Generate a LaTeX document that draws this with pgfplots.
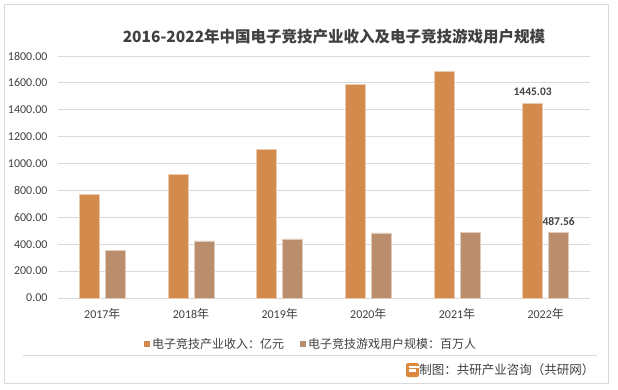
\documentclass[border=0pt]{standalone}
\usepackage{pgfplots}
\pgfplotsset{compat=1.18}
\usetikzlibrary{calc}
\usepackage{fontspec}
\setmainfont{Carlito}
\newfontfamily\cjk{Noto Sans CJK SC}
\definecolor{barA}{HTML}{D38B4D}
\definecolor{barB}{HTML}{BA8D6C}
\definecolor{txt}{HTML}{404040}
\definecolor{gridc}{HTML}{D9D9D9}
\begin{document}
\begin{tikzpicture}[x=1pt,y=1pt]
\useasboundingbox (0,0) rectangle (618,389);
\draw[gridc,line width=0.8pt] (4,6) rectangle (608,385);
\node[txt,font=\cjk\bfseries\fontsize{15.5}{18}\selectfont] at (334,352) {2016-2022年中国电子竞技产业收入及电子竞技游戏用户规模};
\begin{axis}[
  at={(58pt,91pt)}, anchor=south west,
  scale only axis, width=532pt, height=242pt,
  xmin=-0.5, xmax=5.5, ymin=0, ymax=1800,
  ybar=6pt, bar width=20pt,
  axis line style={draw=none},
  ymajorgrids, grid style={gridc,line width=0.8pt},
  ytick={0,200,...,1800},
  xtick=data,
  xticklabels={2017\cjk{年},2018\cjk{年},2019\cjk{年},2020\cjk{年},2021\cjk{年},2022\cjk{年}},
  major tick length=0pt,
  tick label style={txt,font=\fontsize{12}{14}\selectfont},
  /pgf/number format/assume math mode=true,
  yticklabel={\pgfmathprintnumber[fixed,fixed zerofill,precision=2,1000 sep={}]{\tick}},
  yticklabel style={xshift=-7pt},
  xticklabel style={yshift=-7pt},
  legend columns=2,
  legend style={at={(253pt,-46pt)},anchor=center,draw=none,fill=none,
    font=\cjk\fontsize{12}{14}\selectfont,text=txt,
    /tikz/every even column/.append style={column sep=14pt}},
  legend image code/.code={\fill[#1,draw=none] (0pt,-3pt) rectangle (6pt,3pt);},
]
\addplot[fill=barA,draw=barA!45!white,line width=0.8pt] coordinates {(0,771) (1,920) (2,1106) (3,1590) (4,1687) (5,1445.03)};
\addplot[fill=barB,draw=barB!45!white,line width=0.8pt] coordinates {(0,357) (1,424) (2,439) (3,484) (4,489) (5,487.56)};
\legend{电子竞技产业收入：亿元,电子竞技游戏用户规模：百万人}
\node[txt,font=\bfseries\fontsize{11.5}{13}\selectfont,anchor=south,xshift=-13pt,yshift=5pt] at (axis cs:5,1445.03) {1445.03};
\node[txt,font=\bfseries\fontsize{11.5}{13}\selectfont,anchor=south,xshift=13pt,yshift=3pt] at (axis cs:5,487.56) {487.56};
\end{axis}
\draw[gridc,line width=0.8pt] (23,34) -- (597,34);
\fill[barA!80!orange,rounded corners=2pt] (406,12) rectangle (419,26);
\fill[white] (408.5,17.5) rectangle (416,20);
\fill[white] (408.5,21.5) rectangle (419,23.5);
\node[txt,font=\cjk\fontsize{12.5}{14}\selectfont,anchor=east] at (598,19) {制图：共研产业咨询（共研网）};
\end{tikzpicture}
\end{document}
